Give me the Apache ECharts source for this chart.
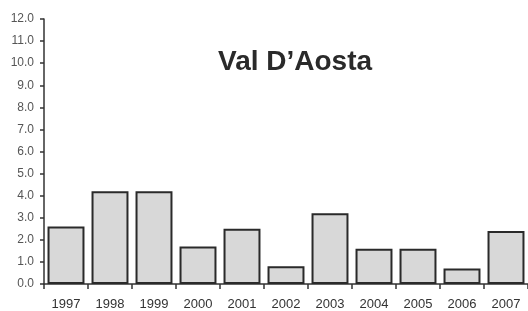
<!DOCTYPE html>
<html>
<head>
<meta charset="utf-8">
<script src="https://cdn.jsdelivr.net/npm/echarts@6/dist/echarts.min.js"></script>
<style>
  html, body { margin: 0; padding: 0; background: #fff; }
  #chart { width: 528px; height: 311px; }
</style>
</head>
<body>
<div id="chart"></div>
<script>
var years = ['1997', '1998', '1999', '2000', '2001', '2002', '2003', '2004', '2005', '2006', '2007'];
var values = [2.6, 4.2, 4.2, 1.7, 2.5, 0.8, 3.2, 1.6, 1.6, 0.7, 2.4];
var chartTitle = "Val D\u2019Aosta";

var myChart = echarts.init(document.getElementById('chart'));

var option = {
    animation: false,
    title: {
        text: chartTitle,
        left: 213,
        top: 43,
        textStyle: {
            fontFamily: 'Liberation Sans',
            fontWeight: 'bold',
            fontSize: 28,
            color: '#2a2a2a'
        }
    },
    grid: {
        left: 44,
        right: 0,
        top: 19,
        bottom: 27,
        containLabel: false
    },
    xAxis: {
        type: 'category',
        data: years,
        axisLine: { lineStyle: { color: '#333', width: 1.5 } },
        axisTick: { show: true, length: 5, lineStyle: { color: '#333', width: 1.5 } },
        axisLabel: {
            margin: 14,
            fontFamily: 'Liberation Sans',
            fontSize: 13,
            color: '#333'
        }
    },
    yAxis: {
        type: 'value',
        min: 0,
        max: 12,
        interval: 1,
        axisLine: { show: true, lineStyle: { color: '#333', width: 1.5 } },
        axisTick: { show: true, length: 4, lineStyle: { color: '#333', width: 1.5 } },
        splitLine: { show: false },
        axisLabel: {
            margin: 10,
            fontFamily: 'Liberation Sans',
            fontSize: 12,
            color: '#555',
            formatter: function (v) { return v.toFixed(1); }
        }
    },
    series: [{
        type: 'bar',
        data: values,
        barCategoryGap: '16%',
        itemStyle: {
            color: '#d8d8d8',
            borderColor: '#2a2a2a',
            borderWidth: 2
        }
    }]
};

myChart.setOption(option);
</script>
</body>
</html>
